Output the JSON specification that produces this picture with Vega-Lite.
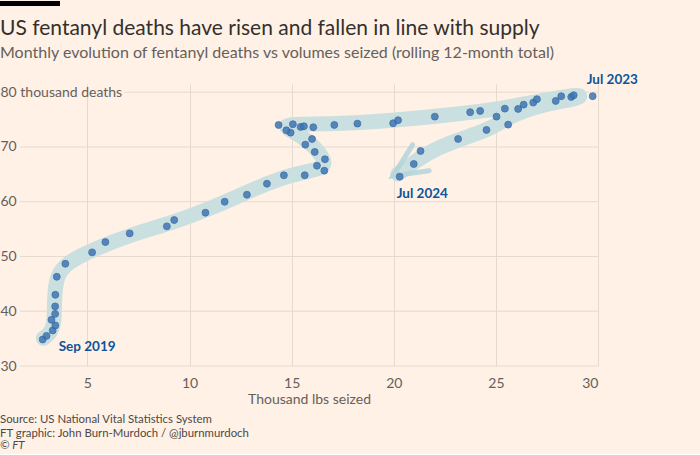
{
  "$schema": "https://vega.github.io/schema/vega-lite/v6.json",
  "background": "#fff1e5",
  "padding": {"left": 0, "top": 0, "right": 62, "bottom": 2},
  "spacing": 11,
  "columns": 1,
  "align": "none",
  "title": {
    "text": ["Source: US National Vital Statistics System", "FT graphic: John Burn-Murdoch / @jburnmurdoch"],
    "subtitle": "© FT",
    "orient": "bottom",
    "anchor": "start",
    "frame": "bounds",
    "font": "Lato",
    "fontSize": 11.4,
    "fontWeight": "normal",
    "color": "#4d4845",
    "lineHeight": 14,
    "offset": 8,
    "subtitleFont": "Lato",
    "subtitleFontSize": 11.4,
    "subtitleFontStyle": "italic",
    "subtitleColor": "#4d4845",
    "subtitlePadding": 1
  },
  "datasets": {
    "points": [
      {"i": 1, "x": 2.81, "y": 34.84}, {"i": 2, "x": 3.0, "y": 35.5}, {"i": 3, "x": 3.3, "y": 36.49},
      {"i": 4, "x": 3.43, "y": 37.4}, {"i": 5, "x": 3.24, "y": 38.43}, {"i": 6, "x": 3.42, "y": 39.52},
      {"i": 7, "x": 3.42, "y": 40.88}, {"i": 8, "x": 3.43, "y": 43.0}, {"i": 9, "x": 3.5, "y": 46.29},
      {"i": 10, "x": 3.92, "y": 48.67}, {"i": 11, "x": 5.23, "y": 50.75}, {"i": 12, "x": 5.88, "y": 52.63},
      {"i": 13, "x": 7.07, "y": 54.22}, {"i": 14, "x": 8.89, "y": 55.5}, {"i": 15, "x": 9.25, "y": 56.65},
      {"i": 16, "x": 10.78, "y": 57.99}, {"i": 17, "x": 11.72, "y": 60.0}, {"i": 18, "x": 12.81, "y": 61.28},
      {"i": 19, "x": 13.79, "y": 63.29}, {"i": 20, "x": 14.62, "y": 64.83}, {"i": 21, "x": 15.64, "y": 64.83},
      {"i": 22, "x": 16.6, "y": 65.67}, {"i": 23, "x": 16.24, "y": 66.58}, {"i": 24, "x": 16.63, "y": 67.75},
      {"i": 25, "x": 16.13, "y": 69.09}, {"i": 26, "x": 15.67, "y": 70.42}, {"i": 27, "x": 16.0, "y": 71.46},
      {"i": 28, "x": 14.95, "y": 72.61}, {"i": 29, "x": 14.74, "y": 73.05}, {"i": 30, "x": 14.36, "y": 74.02},
      {"i": 31, "x": 15.06, "y": 74.15}, {"i": 32, "x": 15.44, "y": 73.66}, {"i": 33, "x": 15.6, "y": 73.78},
      {"i": 34, "x": 16.06, "y": 73.6}, {"i": 35, "x": 17.09, "y": 74.02}, {"i": 36, "x": 18.22, "y": 74.26},
      {"i": 37, "x": 19.97, "y": 74.33}, {"i": 38, "x": 20.21, "y": 74.88}, {"i": 39, "x": 22.01, "y": 75.54},
      {"i": 40, "x": 23.74, "y": 76.34}, {"i": 41, "x": 24.23, "y": 76.58}, {"i": 42, "x": 25.44, "y": 77.0},
      {"i": 43, "x": 26.09, "y": 76.95}, {"i": 44, "x": 26.36, "y": 77.73}, {"i": 45, "x": 26.83, "y": 78.1},
      {"i": 46, "x": 27.01, "y": 78.72}, {"i": 47, "x": 27.93, "y": 78.41}, {"i": 48, "x": 28.2, "y": 79.27},
      {"i": 49, "x": 28.69, "y": 79.14}, {"i": 50, "x": 28.81, "y": 79.45}, {"i": 51, "x": 29.74, "y": 79.27},
      {"i": 52, "x": 25.03, "y": 75.54}, {"i": 53, "x": 25.6, "y": 74.08}, {"i": 54, "x": 24.54, "y": 73.11},
      {"i": 55, "x": 23.15, "y": 71.46}, {"i": 56, "x": 21.31, "y": 69.27}, {"i": 57, "x": 20.98, "y": 66.89},
      {"i": 58, "x": 20.29, "y": 64.57}
    ],
    "band": [
      {"i": 1, "x": 2.84, "y": 35.07}, {"i": 2, "x": 3.16, "y": 35.9}, {"i": 3, "x": 3.38, "y": 37.64},
      {"i": 4, "x": 3.38, "y": 41.3}, {"i": 5, "x": 3.43, "y": 44.95}, {"i": 6, "x": 3.63, "y": 47.33},
      {"i": 7, "x": 4.22, "y": 49.34}, {"i": 8, "x": 5.34, "y": 51.35}, {"i": 9, "x": 7.06, "y": 53.91},
      {"i": 10, "x": 9.26, "y": 56.29}, {"i": 11, "x": 10.98, "y": 58.67}, {"i": 12, "x": 12.94, "y": 61.96},
      {"i": 13, "x": 14.41, "y": 64.33}, {"i": 14, "x": 15.88, "y": 65.61}, {"i": 15, "x": 16.75, "y": 66.4},
      {"i": 16, "x": 16.42, "y": 68.72}, {"i": 17, "x": 15.88, "y": 70.91}, {"i": 18, "x": 15.2, "y": 72.56},
      {"i": 19, "x": 14.55, "y": 73.85}, {"i": 20, "x": 15.15, "y": 74.2}, {"i": 21, "x": 17.35, "y": 74.2},
      {"i": 22, "x": 20.29, "y": 74.94}, {"i": 23, "x": 22.75, "y": 75.85}, {"i": 24, "x": 25.2, "y": 76.95},
      {"i": 25, "x": 27.16, "y": 78.41}, {"i": 26, "x": 28.53, "y": 79.32}, {"i": 27, "x": 29.22, "y": 79.51},
      {"i": 28, "x": 29.02, "y": 78.78}, {"i": 29, "x": 27.4, "y": 77.86}, {"i": 30, "x": 25.93, "y": 76.03},
      {"i": 31, "x": 25.1, "y": 74.2}, {"i": 32, "x": 24.46, "y": 72.93}, {"i": 33, "x": 23.14, "y": 71.28},
      {"i": 34, "x": 21.91, "y": 69.45}, {"i": 35, "x": 20.93, "y": 67.08}, {"i": 36, "x": 20.2, "y": 65.06}
    ],
    "arrow": [
      {"i": 1, "x": 20.92, "y": 70.37}, {"i": 2, "x": 19.97, "y": 64.75}, {"i": 3, "x": 21.73, "y": 65.67}
    ],
    "grid": [
      {"y": 30, "start": 1.7}, {"y": 40, "start": 1.7}, {"y": 50, "start": 1.7},
      {"y": 60, "start": 1.7}, {"y": 70, "start": 1.7}, {"y": 80, "start": 6.8}
    ],
    "labels": [
      {"label": "Jul 2023", "x": 29.74, "y": 79.27},
      {"label": "Jul 2024", "x": 20.29, "y": 64.57},
      {"label": "Sep 2019", "x": 2.81, "y": 34.84}
    ]
  },
  "concat": [
    {
      "width": 60,
      "height": 5,
      "view": {"fill": "#000000", "stroke": null},
      "data": {"values": [{"k": 1}]},
      "mark": {"type": "point", "opacity": 0},
      "encoding": {}
    },
    {
      "width": 598,
      "height": 282,
      "title": {
        "text": "US fentanyl deaths have risen and fallen in line with supply",
        "subtitle": "Monthly evolution of fentanyl deaths vs volumes seized (rolling 12-month total)",
        "anchor": "start",
        "frame": "bounds",
        "font": "Lato",
        "fontSize": 21,
        "fontWeight": "normal",
        "color": "#33302e",
        "subtitleFont": "Lato",
        "subtitleFontSize": 16,
        "subtitleColor": "#66605c",
        "subtitlePadding": 6,
        "offset": 12
      },
      "layer": [
        {
          "data": {"name": "grid"},
          "mark": {"type": "rule", "color": "#e6d9ce", "strokeWidth": 1},
          "encoding": {
            "x": {"field": "start", "type": "quantitative", "scale": {"domain": [0.72, 30], "nice": false, "zero": false},
              "axis": {"values": [5, 10, 15, 20, 25, 30], "title": "Thousand lbs seized", "labelPadding": 10, "titlePadding": 2, "titleX": 309}},
            "x2": {"datum": 30},
            "y": {"field": "y", "type": "quantitative", "scale": {"domain": [30, 81.5], "nice": false, "zero": false},
              "axis": {"values": [30, 40, 50, 60, 70, 80], "title": null, "grid": false, "labelAlign": "left", "labelPadding": 0,
                "labelExpr": "datum.value == 80 ? '80 thousand deaths' : datum.label"}}
          }
        },
        {
          "data": {"name": "band"},
          "mark": {"type": "line", "interpolate": "basis", "strokeWidth": 15, "color": "#c9dfe0", "strokeCap": "round", "strokeJoin": "round"},
          "encoding": {
            "x": {"field": "x", "type": "quantitative"},
            "y": {"field": "y", "type": "quantitative"},
            "order": {"field": "i", "type": "quantitative"}
          }
        },
        {
          "data": {"name": "arrow"},
          "mark": {"type": "line", "strokeWidth": 5, "color": "#b3d5d9", "opacity": 0.85, "strokeJoin": "miter", "strokeCap": "round"},
          "encoding": {
            "x": {"field": "x", "type": "quantitative"},
            "y": {"field": "y", "type": "quantitative"},
            "order": {"field": "i", "type": "quantitative"}
          }
        },
        {
          "data": {"name": "points"},
          "mark": {"type": "circle", "size": 48, "color": "#3f76b5", "opacity": 0.85, "stroke": "#2d5f9a", "strokeWidth": 0.8},
          "encoding": {
            "x": {"field": "x", "type": "quantitative"},
            "y": {"field": "y", "type": "quantitative"}
          }
        },
        {
          "data": {"name": "labels"},
          "transform": [{"filter": "datum.label == 'Jul 2023'"}],
          "mark": {"type": "text", "align": "left", "baseline": "middle", "dx": -6, "dy": -16, "font": "Lato", "fontSize": 13.5, "fontWeight": "bold", "color": "#0f5499"},
          "encoding": {"x": {"field": "x", "type": "quantitative"}, "y": {"field": "y", "type": "quantitative"}, "text": {"field": "label"}}
        },
        {
          "data": {"name": "labels"},
          "transform": [{"filter": "datum.label == 'Jul 2024'"}],
          "mark": {"type": "text", "align": "left", "baseline": "middle", "dx": -3, "dy": 17, "font": "Lato", "fontSize": 13.5, "fontWeight": "bold", "color": "#0f5499"},
          "encoding": {"x": {"field": "x", "type": "quantitative"}, "y": {"field": "y", "type": "quantitative"}, "text": {"field": "label"}}
        },
        {
          "data": {"name": "labels"},
          "transform": [{"filter": "datum.label == 'Sep 2019'"}],
          "mark": {"type": "text", "align": "left", "baseline": "middle", "dx": 16, "dy": 8, "font": "Lato", "fontSize": 13.5, "fontWeight": "bold", "color": "#0f5499"},
          "encoding": {"x": {"field": "x", "type": "quantitative"}, "y": {"field": "y", "type": "quantitative"}, "text": {"field": "label"}}
        }
      ]
    }
  ],
  "config": {
    "view": {"stroke": null},
    "axis": {
      "domain": false,
      "ticks": false,
      "tickSize": 0,
      "gridColor": "#e6d9ce",
      "gridWidth": 1,
      "labelFont": "Lato",
      "labelFontSize": 14,
      "labelColor": "#66605c",
      "titleFont": "Lato",
      "titleFontSize": 14,
      "titleFontWeight": "normal",
      "titleColor": "#66605c"
    }
  }
}
